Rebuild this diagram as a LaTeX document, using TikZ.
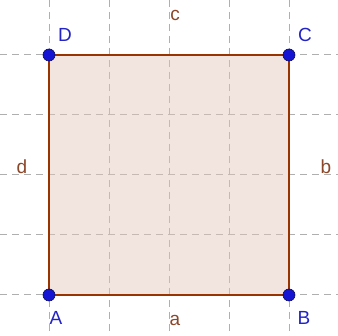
\documentclass[tikz,border=0pt]{standalone}
\usepackage{fontspec}
\setmainfont{Liberation Sans}
\definecolor{gridgray}{RGB}{175,175,175}
\definecolor{edgebrown}{RGB}{153,51,0}
\definecolor{labbrown}{RGB}{140,70,40}
\definecolor{ptblue}{RGB}{20,20,210}
\definecolor{ptdark}{RGB}{10,10,90}
\definecolor{sqfill}{RGB}{228,196,186}
\begin{document}
\begin{tikzpicture}[x=1pt,y=-1pt,
  gridline/.style={gridgray,line width=1pt,dash pattern=on 7pt off 5pt},
  edge/.style={edgebrown,line width=1.8pt},
  pt/.style={circle,fill=ptblue,draw=ptdark,line width=0.6pt,minimum size=12pt,inner sep=0pt},
  vlab/.style={text=ptblue!85!gray,font=\fontsize{19}{19}\selectfont,anchor=base,inner sep=0pt},
  slab/.style={text=labbrown,font=\fontsize{19}{19}\selectfont,anchor=base,inner sep=0pt}]
\useasboundingbox (0,0) rectangle (338,336);
\fill[white] (0,0) rectangle (338,336);
% grid
\foreach \gx in {49,109,169,229,289} \draw[gridline] (\gx,0) -- (\gx,336);
\foreach \gy in {55,115,175,235,295} \draw[gridline] (0,\gy) -- (338,\gy);
% vertices
\coordinate (pA) at (49,295);
\coordinate (pB) at (289,295);
\coordinate (pC) at (289,55);
\coordinate (pD) at (49,55);
\fill[sqfill,opacity=0.45] (pA) -- (pB) -- (pC) -- (pD) -- cycle;
\draw[edge] (pA) -- (pB) -- (pC) -- (pD) -- cycle;
\node[pt] (A) at (pA) {};
\node[pt] (B) at (pB) {};
\node[pt] (C) at (pC) {};
\node[pt] (D) at (pD) {};
% vertex labels
\node[vlab] (lA) at (56,325) {A};
\node[vlab] (lB) at (304,325) {B};
\node[vlab] (lC) at (305,42) {C};
\node[vlab] (lD) at (65,42) {D};
% side labels
\node[slab] (la) at (175,326) {a};
\node[slab] (lb) at (326,174) {b};
\node[slab] (lc) at (175,21) {c};
\node[slab] (ld) at (22,174) {d};
\end{tikzpicture}
\end{document}
